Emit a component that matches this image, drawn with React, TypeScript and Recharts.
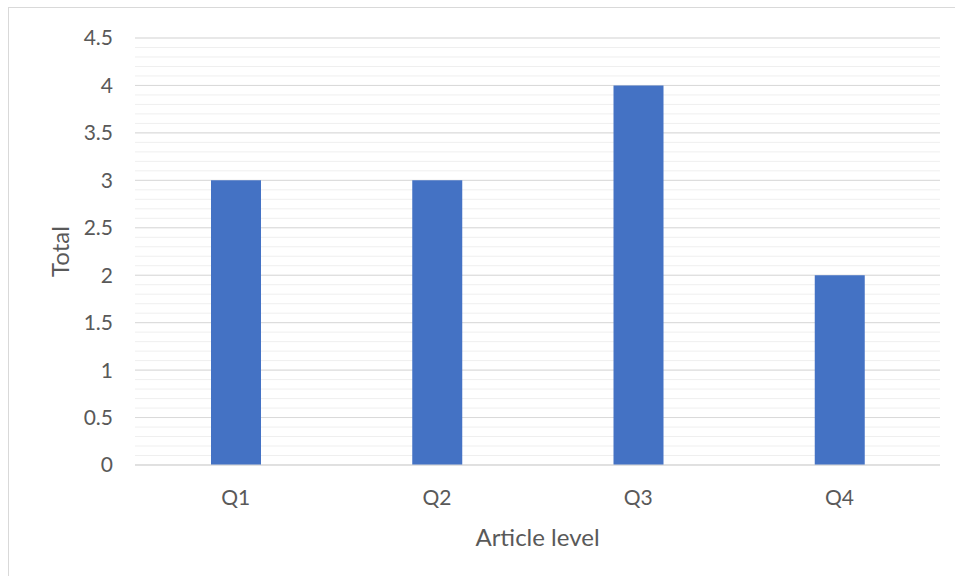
import React from 'react';
import { BarChart, Bar, XAxis, YAxis, CartesianGrid } from 'recharts';

const categories = ['Q1', 'Q2', 'Q3', 'Q4'];
const totals = [3, 3, 4, 2];
const majorTicks = [0, 0.5, 1, 1.5, 2, 2.5, 3, 3.5, 4, 4.5];
const minorTicks = [
  0, 0.1, 0.2, 0.3, 0.4, 0.5, 0.6, 0.7, 0.8, 0.9,
  1, 1.1, 1.2, 1.3, 1.4, 1.5, 1.6, 1.7, 1.8, 1.9,
  2, 2.1, 2.2, 2.3, 2.4, 2.5, 2.6, 2.7, 2.8, 2.9,
  3, 3.1, 3.2, 3.3, 3.4, 3.5, 3.6, 3.7, 3.8, 3.9,
  4, 4.1, 4.2, 4.3, 4.4, 4.5,
];

const data = categories.map((c, i) => ({ level: c, total: totals[i] }));

const FONT = 'Lato, "Open Sans", sans-serif';
const TEXT = '#595959';

const MARGIN = { top: 38, right: 15, bottom: 51, left: 0 };

const YTitle = (props: any) => {
  const vb = props.viewBox || {};
  const cx = vb.x + 60;
  const cy = vb.y + vb.height / 2;
  return (
    <text
      x={cx}
      y={cy}
      transform={`rotate(-90, ${cx}, ${cy})`}
      textAnchor="middle"
      dy="0.355em"
      fill={TEXT}
      fontSize={24}
      fontFamily={FONT}
    >
      Total
    </text>
  );
};

const XTitle = (props: any) => {
  const vb = props.viewBox || {};
  const cx = vb.x + vb.width / 2;
  const cy = vb.y + 72;
  return (
    <text x={cx} y={cy} textAnchor="middle" dy="0.355em" fill={TEXT} fontSize={24} fontFamily={FONT}>
      Article level
    </text>
  );
};

const NoTick = () => <g />;

export default function App() {
  return (
    <div style={{ position: 'absolute', left: 0, top: 0, width: 955, height: 576, overflow: 'hidden', background: '#fff' }}>
      <div
        style={{
          position: 'absolute',
          left: 8,
          top: 7,
          width: 980,
          height: 600,
          border: '1px solid #d9d9d9',
          boxSizing: 'border-box',
        }}
      />
      {/* minor gridlines layer */}
      <div style={{ position: 'absolute', left: 0, top: 0 }}>
        <BarChart width={955} height={576} data={data} margin={MARGIN}>
          <CartesianGrid vertical={false} stroke="#efefef" strokeWidth={1} />
          <XAxis dataKey="level" height={60} axisLine={false} tickLine={false} tick={<NoTick />} />
          <YAxis
            domain={[0, 4.5]}
            ticks={minorTicks}
            type="number"
            width={135}
            interval={0}
            axisLine={false}
            tickLine={false}
            tick={<NoTick />}
          />
          <Bar dataKey="total" fill="#ffffff" fillOpacity={0} barSize={50} isAnimationActive={false} />
        </BarChart>
      </div>
      {/* main chart */}
      <div style={{ position: 'absolute', left: 0, top: 0 }}>
        <BarChart width={955} height={576} data={data} margin={MARGIN} barCategoryGap={0}>
          <CartesianGrid vertical={false} stroke="#d9d9d9" strokeWidth={1} />
          <XAxis
            dataKey="level"
            height={60}
            axisLine={{ stroke: '#d9d9d9', strokeWidth: 1 }}
            tickLine={false}
            tickSize={0}
            tickMargin={25}
            tick={{ fill: TEXT, fontSize: 21, fontFamily: FONT }}
            label={<XTitle />}
          />
          <YAxis
            domain={[0, 4.5]}
            ticks={majorTicks}
            type="number"
            width={135}
            interval={0}
            axisLine={false}
            tickLine={false}
            tickSize={0}
            tickMargin={22}
            tick={{ fill: TEXT, fontSize: 21, fontFamily: FONT }}
            label={<YTitle />}
          />
          <Bar dataKey="total" fill="#4472C4" barSize={50} isAnimationActive={false} />
        </BarChart>
      </div>
    </div>
  );
}
